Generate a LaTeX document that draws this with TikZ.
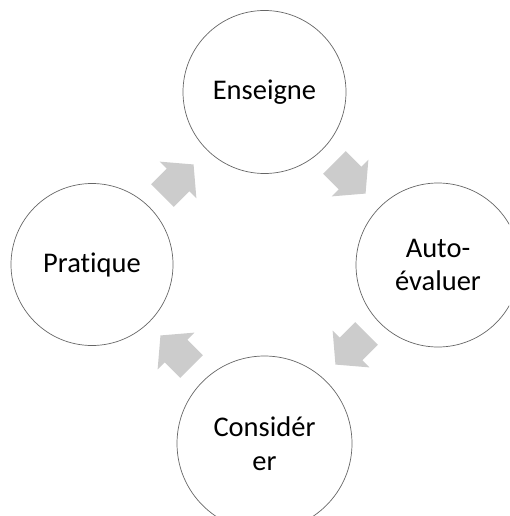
\documentclass[tikz,border=0pt]{standalone}
\usepackage{fontspec}
\setmainfont[Ligatures=NoCommon]{Carlito}
\begin{document}
\begin{tikzpicture}[x=1pt,y=-1pt,
  stage/.style={circle,draw=black!60,line width=0.7pt,fill=white,inner sep=0pt,align=center,
    font=\fontsize{28.5}{33.5}\selectfont},
  blockarrow/.style={fill=black!20,draw=none}]
\useasboundingbox (0,0) rectangle (509,516);
\clip (0,0) rectangle (509,516);
\node[stage,minimum size=163pt] (ens) at (264.5,92) {Enseigne};
\node[stage,minimum size=164pt] (auto) at (438,265) {Auto-\\évaluer};
\node[stage,minimum size=175pt] (cons) at (264.5,443.5) {Considér\\er};
\node[stage,minimum size=162pt] (prat) at (92,264.5) {Pratique};
\foreach \cx/\cy/\ang in {178/180/45, 350/178/-45, 351/349/-135, 176/351/135}{
  \begin{scope}[shift={(\cx,\cy)},rotate=\ang]
    \fill[blockarrow] (-22,-16) -- (0,-16) -- (0,-26) -- (22,0) -- (0,26) -- (0,16) -- (-22,16) -- cycle;
  \end{scope}
}
\end{tikzpicture}
\end{document}
